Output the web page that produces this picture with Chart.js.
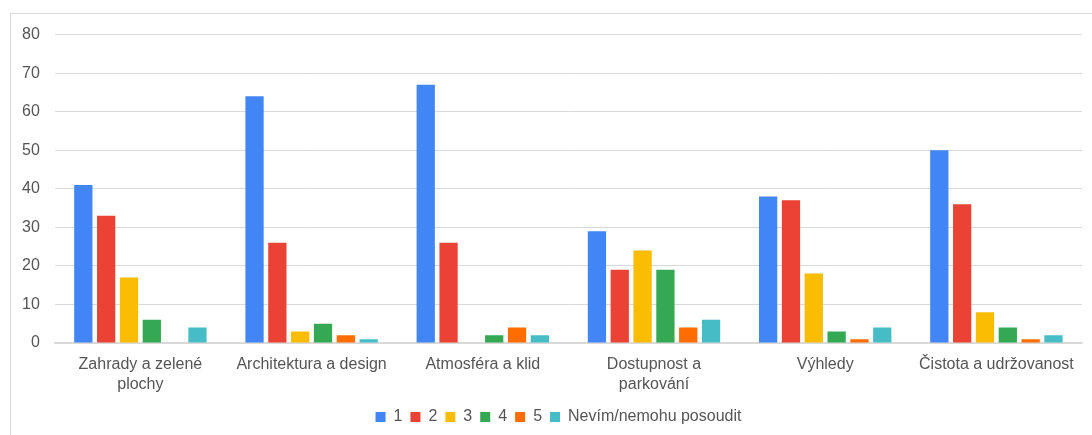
<!DOCTYPE html>
<html><head><meta charset="utf-8">
<script src="https://cdn.jsdelivr.net/npm/chart.js@4/dist/chart.umd.min.js"></script>
<style>
html,body{margin:0;padding:0;background:#fff;width:1092px;height:435px;overflow:hidden;}
#frame{position:absolute;left:10px;top:13px;width:1100px;height:440px;border:1px solid #d9d9d9;box-sizing:border-box;}
#wrap{position:absolute;left:7px;top:10px;width:1085px;height:425px;}
</style></head>
<body>
<div id="frame"></div>
<div id="wrap"><canvas id="c" width="1085" height="425"></canvas></div>
<script>
const categories = [["Zahrady a zelené","plochy"], "Architektura a design", "Atmosféra a klid", ["Dostupnost a","parkování"], "Výhledy", "Čistota a udržovanost"];
const seriesNames = ["1","2","3","4","5","Nevím/nemohu posoudit"];
const s1 = [41, 64, 67, 29, 38, 50];
const s2 = [33, 26, 26, 19, 37, 36];
const s3 = [17, 3, 0, 24, 18, 8];
const s4 = [6, 5, 2, 19, 3, 4];
const s5 = [0, 2, 4, 4, 1, 1];
const s6 = [4, 1, 2, 6, 4, 2];
const colors = ["#4285F4","#EA4335","#FBBC04","#34A853","#FF6D01","#46BDC6"];
const seriesValues = [s1,s2,s3,s4,s5,s6];

const legendShift = {
  id: 'legendShift',
  afterLayout(chart) {
    if (chart.legend) { chart.legend.left += 14; chart.legend.right += 14; }
  }
};

new Chart(document.getElementById('c'), {
  type: 'bar',
  data: {
    labels: categories,
    datasets: seriesValues.map((v,i)=>({label: seriesNames[i], data: v, backgroundColor: colors[i], borderWidth: 0, categoryPercentage: 0.8, barPercentage: 0.8}))
  },
  options: {
    responsive: false,
    animation: false,
    layout: {padding: {left: 0, right: 10, top: 2, bottom: 0}},
    scales: {
      x: {
        grid: {display: false},
        border: {display: true, color: '#d9d9d9', width: 1.5},
        ticks: {color: '#555', font: {family: 'Liberation Sans, Arial', size: 16, lineHeight: 1.25}, maxRotation: 0, autoSkip: false, padding: 4},
        afterFit(scale) { scale.height += 2; }
      },
      y: {
        min: 0, max: 80,
        ticks: {stepSize: 10, color: '#555', font: {family: 'Liberation Sans, Arial', size: 16}, padding: 15},
        grid: {color: '#d9d9d9', drawTicks: false},
        border: {display: false}
      }
    },
    plugins: {
      legend: {
        position: 'bottom',
        labels: {boxWidth: 10, boxHeight: 10, color: '#555', font: {family: 'Liberation Sans, Arial', size: 16}, padding: 8}
      },
      tooltip: {enabled: false}
    }
  },
  plugins: [legendShift]
});
</script>
</body></html>
